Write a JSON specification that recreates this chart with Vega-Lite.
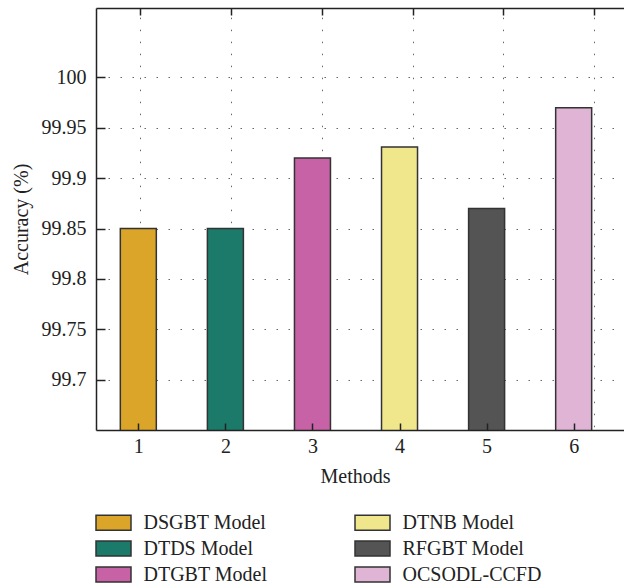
{
  "$schema": "https://vega.github.io/schema/vega-lite/v6.json",
  "width": 530,
  "height": 422,
  "autosize": "none",
  "padding": {"left": 96, "top": 8, "right": 0, "bottom": 155},
  "background": "white",
  "config": {
    "font": "Liberation Serif",
    "view": {"stroke": null},
    "axis": {
      "labelFont": "Liberation Serif",
      "titleFont": "Liberation Serif",
      "labelFontSize": 20,
      "titleFontSize": 20,
      "labelColor": "#222",
      "titleColor": "#222",
      "titleFontWeight": "normal",
      "domainColor": "#222",
      "domainWidth": 1.5,
      "tickColor": "#222",
      "tickWidth": 1.5,
      "gridColor": "#666",
      "gridWidth": 1,
      "gridDash": [1.5, 10.5]
    },
    "legend": {
      "labelFont": "Liberation Serif",
      "labelFontSize": 20,
      "labelColor": "#222"
    }
  },
  "data": {
    "values": [
      {"method": 1, "model": "DSGBT Model", "accuracy": 99.85},
      {"method": 2, "model": "DTDS Model", "accuracy": 99.85},
      {"method": 3, "model": "DTGBT Model", "accuracy": 99.92},
      {"method": 4, "model": "DTNB Model", "accuracy": 99.931},
      {"method": 5, "model": "RFGBT Model", "accuracy": 99.87},
      {"method": 6, "model": "OCSODL-CCFD", "accuracy": 99.97}
    ]
  },
  "layer": [
    {
      "mark": {"type": "bar", "size": 36, "stroke": "#333", "strokeWidth": 1.5, "clip": true},
      "encoding": {
        "x": {
          "field": "method",
          "type": "quantitative",
          "scale": {"domain": [0.514, 6.601], "nice": false, "zero": false, "padding": 0},
          "axis": {
            "orient": "bottom",
            "values": [1, 2, 3, 4, 5, 6],
            "format": "d",
            "grid": false,
            "tickSize": -7,
            "labelPadding": 13,
            "labelFont": "Liberation Serif",
            "title": "Methods",
            "titleFont": "Liberation Serif",
            "titlePadding": 10,
            "titleX": 259,
            "zindex": 1
          }
        },
        "y": {
          "field": "accuracy",
          "type": "quantitative",
          "scale": {"domain": [99.65, 100.069], "nice": false, "zero": false},
          "axis": {
            "values": [99.7, 99.75, 99.8, 99.85, 99.9, 99.95, 100],
            "format": "~f",
            "grid": true,
            "tickSize": -9,
            "labelPadding": 19,
            "labelFont": "Liberation Serif",
            "title": "Accuracy (%)",
            "titleFont": "Liberation Serif",
            "titlePadding": 10,
            "zindex": 0
          }
        },
        "color": {
          "field": "model",
          "type": "nominal",
          "scale": {
            "domain": ["DSGBT Model", "DTDS Model", "DTGBT Model", "DTNB Model", "RFGBT Model", "OCSODL-CCFD"],
            "range": ["#DAA528", "#1B7A6A", "#C662A5", "#F0E68C", "#545454", "#DFB4D5"]
          },
          "legend": {
            "orient": "none",
            "legendX": 6.5,
            "legendY": 503.5,
            "columns": 2,
            "title": null,
            "padding": 0,
            "symbolType": "M-1.75,-0.75L1.75,-0.75L1.75,0.75L-1.75,0.75Z",
            "symbolSize": 400,
            "symbolStrokeColor": "#333",
            "symbolStrokeWidth": 1.5,
            "symbolOpacity": 1,
            "labelFont": "Liberation Serif",
            "labelFontSize": 20,
            "labelOffset": 19,
            "rowPadding": 4,
            "columnPadding": 84,
            "labelLimit": 300
          }
        }
      }
    },
    {
      "mark": {"type": "point", "opacity": 0},
      "encoding": {
        "x": {
          "field": "method",
          "type": "quantitative",
          "scale": {"domain": [0.516, 6.349], "nice": false, "zero": false},
          "axis": {
            "orient": "top",
            "values": [1, 2, 3, 4, 5, 6],
            "labels": false,
            "grid": true,
            "gridDashOffset": 8.7,
            "tickSize": -7,
            "title": null,
            "zindex": 0
          }
        },
        "y": {"field": "accuracy", "type": "quantitative"}
      }
    }
  ],
  "resolve": {"scale": {"x": "independent"}}
}
